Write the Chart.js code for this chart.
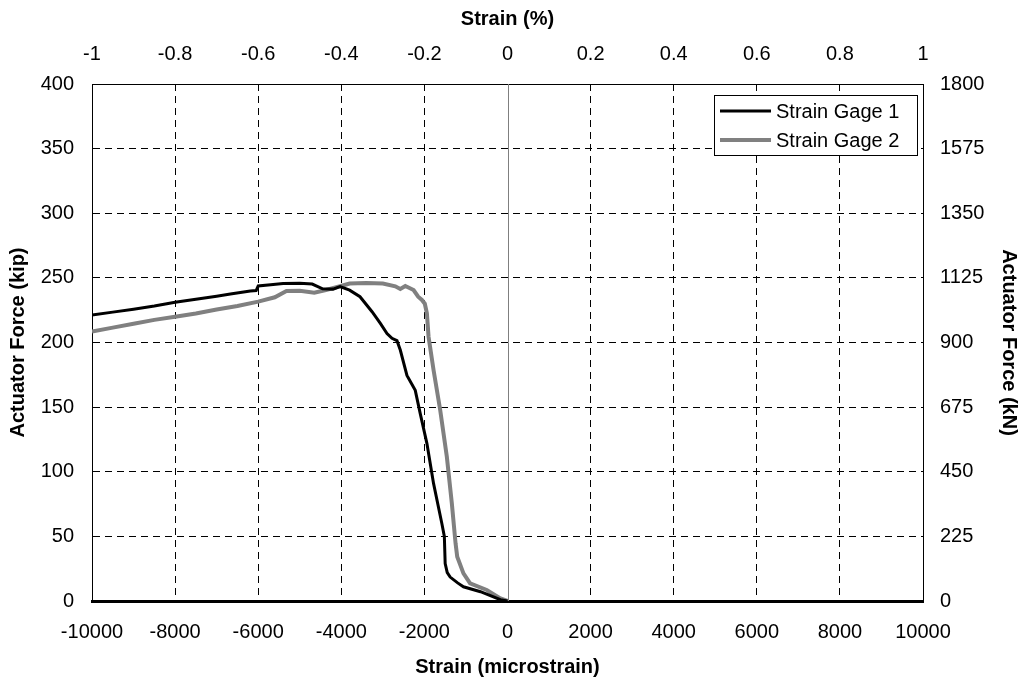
<!DOCTYPE html>
<html>
<head>
<meta charset="utf-8">
<script src="https://cdn.jsdelivr.net/npm/chart.js@4/dist/chart.umd.min.js"></script>
<style>
  html, body { margin: 0; padding: 0; background: #ffffff; }
  #wrap { width: 1022px; height: 684px; position: relative; }
</style>
</head>
<body>
<div id="wrap"><canvas id="c" width="1022" height="684"></canvas></div>
<script>
// ---- Data ----
const seriesNames = ['Strain Gage 1', 'Strain Gage 2'];

const gage1Strain = [-10000, -9500, -9000, -8500, -8000, -7500, -7000, -6670, -6190, -6050, -6000, -5700, -5400, -5000, -4700, -4450, -4200, -4030, -3800, -3550, -3260, -3060, -2900, -2780, -2660, -2580, -2420, -2220, -2100, -1940, -1780, -1580, -1520, -1500, -1450, -1380, -1200, -1060, -650, -170, 0];
const gage1Force  = [221.3, 223.5, 225.7, 228.2, 231.1, 233.5, 235.8, 237.5, 239.8, 240.2, 243.7, 244.6, 245.6, 245.8, 245.2, 241.5, 241.3, 243.2, 240.5, 235.4, 223.8, 214.8, 207.0, 203.2, 201.4, 194.2, 174.5, 163.0, 145.0, 122.0, 91.0, 60.0, 50.0, 29.0, 22.0, 18.5, 14.0, 11.0, 7.2, 1.0, 0];

const gage2Strain = [-10000, -9500, -9000, -8500, -8000, -7500, -7000, -6500, -6000, -5600, -5320, -5000, -4650, -4370, -4030, -3800, -3400, -3000, -2700, -2580, -2460, -2260, -2150, -2060, -1990, -1940, -1900, -1780, -1620, -1460, -1340, -1250, -1210, -1060, -900, -500, -170, 0];
const gage2Force  = [208.4, 211.5, 214.5, 217.5, 220.0, 222.5, 225.5, 228.3, 231.6, 235.0, 239.8, 240.0, 238.5, 240.6, 243.5, 245.6, 246.0, 245.6, 243.5, 241.4, 243.7, 240.6, 235.4, 232.9, 230.0, 222.6, 204.5, 178.7, 147.8, 111.6, 75.6, 44.6, 34.3, 21.4, 13.7, 8.5, 2.0, 0];

const strainTicks  = [-10000, -8000, -6000, -4000, -2000, 0, 2000, 4000, 6000, 8000, 10000];
const percentTicks = [-1, -0.8, -0.6, -0.4, -0.2, 0, 0.2, 0.4, 0.6, 0.8, 1];
const kipTicks     = [0, 50, 100, 150, 200, 250, 300, 350, 400];
const kNTicks      = [0, 225, 450, 675, 900, 1125, 1350, 1575, 1800];

const axisTitles = {
  bottom: 'Strain (microstrain)',
  top: 'Strain (%)',
  left: 'Actuator Force (kip)',
  right: 'Actuator Force (kN)'
};

// ---- Styling ----
const FONT = "'Liberation Sans', Arial, Helvetica, sans-serif";
const tickFont = { family: FONT, size: 20 };
const titleFont = { family: FONT, size: 20, weight: 'bold' };
const DASH = [7, 5];

function pts(xs, ys) { return xs.map((x, i) => ({ x: x, y: ys[i] })); }
function setTicks(arr) { return function (scale) { scale.ticks = arr.map(v => ({ value: v })); }; }
function fmt(v) { return String(parseFloat(Number(v).toFixed(4))); }

const zeroLine = {
  id: 'zeroLine',
  beforeDatasetsDraw(chart) {
    const { ctx, chartArea, scales } = chart;
    const px = Math.round(scales.x.getPixelForValue(0)) + 0.5;
    ctx.save();
    ctx.strokeStyle = '#7f7f7f';
    ctx.lineWidth = 1;
    ctx.beginPath();
    ctx.moveTo(px, chartArea.top);
    ctx.lineTo(px, chartArea.bottom);
    ctx.stroke();
    ctx.restore();
  }
};

const boxLegend = {
  id: 'boxLegend',
  afterDraw(chart) {
    const { ctx } = chart;
    const x0 = 714.5, y0 = 95.5, w = 203, h = 60;
    ctx.save();
    ctx.fillStyle = '#ffffff';
    ctx.fillRect(x0, y0, w, h);
    ctx.strokeStyle = '#000000';
    ctx.lineWidth = 1;
    ctx.strokeRect(x0, y0, w, h);
    ctx.font = '20px ' + FONT;
    ctx.textBaseline = 'middle';
    ctx.textAlign = 'left';
    chart.data.datasets.forEach((ds, i) => {
      const yy = 111 + i * 29;
      ctx.strokeStyle = ds.borderColor;
      ctx.lineWidth = ds.borderWidth;
      ctx.beginPath();
      ctx.moveTo(720, yy);
      ctx.lineTo(771, yy);
      ctx.stroke();
      ctx.fillStyle = '#000000';
      ctx.fillText(ds.label, 776, yy + 1);
    });
    ctx.restore();
  }
};

new Chart(document.getElementById('c'), {
  type: 'scatter',
  data: {
    datasets: [
      { label: seriesNames[0], data: pts(gage1Strain, gage1Force), showLine: true,
        borderColor: '#000000', backgroundColor: '#000000', borderWidth: 3,
        pointRadius: 0, pointHoverRadius: 0, tension: 0, xAxisID: 'x', yAxisID: 'y' },
      { label: seriesNames[1], data: pts(gage2Strain, gage2Force), showLine: true,
        borderColor: '#808080', backgroundColor: '#808080', borderWidth: 4,
        pointRadius: 0, pointHoverRadius: 0, tension: 0, xAxisID: 'x', yAxisID: 'y' }
    ]
  },
  options: {
    responsive: false,
    animation: false,
    events: [],
    layout: { padding: { right: -1 } },
    plugins: { legend: { display: false }, tooltip: { enabled: false } },
    scales: {
      x: {
        type: 'linear', position: 'bottom', min: -10000, max: 10000,
        afterBuildTicks: setTicks(strainTicks),
        afterFit(s) { s.height = 83; },
        ticks: { font: tickFont, color: '#000000', padding: 19, maxRotation: 0, autoSkip: false, callback: fmt },
        grid: {
          drawTicks: false,
          color: ctx => (ctx.tick && ctx.tick.value === 0) ? 'rgba(0,0,0,0)' : '#000000',
          lineWidth: 1
        },
        border: { display: true, color: '#000000', width: 3, dash: DASH },
        title: { display: true, text: axisTitles.bottom, font: titleFont, color: '#000000', padding: { top: 0, bottom: 5 } }
      },
      x2: {
        type: 'linear', position: 'top', min: -1, max: 1,
        afterBuildTicks: setTicks(percentTicks),
        afterFit(s) { s.height = 84; },
        ticks: { font: tickFont, color: '#000000', padding: 18, maxRotation: 0, autoSkip: false, callback: fmt },
        grid: { display: false, drawTicks: false },
        border: { display: true, color: '#000000', width: 1 },
        title: { display: true, text: axisTitles.top, font: titleFont, color: '#000000', padding: { top: 7, bottom: 0 } }
      },
      y: {
        type: 'linear', position: 'left', min: 0, max: 400,
        afterBuildTicks: setTicks(kipTicks),
        afterFit(s) { s.width = 92; },
        ticks: { font: tickFont, color: '#000000', padding: 18, autoSkip: false, callback: fmt },
        grid: { drawTicks: false, color: '#000000', lineWidth: 1 },
        border: { display: true, color: '#000000', width: 1, dash: DASH },
        title: { display: true, text: axisTitles.left, font: titleFont, color: '#000000', padding: { top: 6, bottom: 0 } }
      },
      y2: {
        type: 'linear', position: 'right', min: 0, max: 1800,
        afterBuildTicks: setTicks(kNTicks),
        afterFit(s) { s.width = 100; },
        ticks: { font: tickFont, color: '#000000', padding: 17, autoSkip: false, callback: fmt },
        grid: { display: false, drawTicks: false },
        border: { display: true, color: '#000000', width: 1 },
        title: { display: true, text: axisTitles.right, font: titleFont, color: '#000000', padding: { top: 2, bottom: 0 } }
      }
    }
  },
  plugins: [zeroLine, boxLegend]
});
</script>
</body>
</html>
